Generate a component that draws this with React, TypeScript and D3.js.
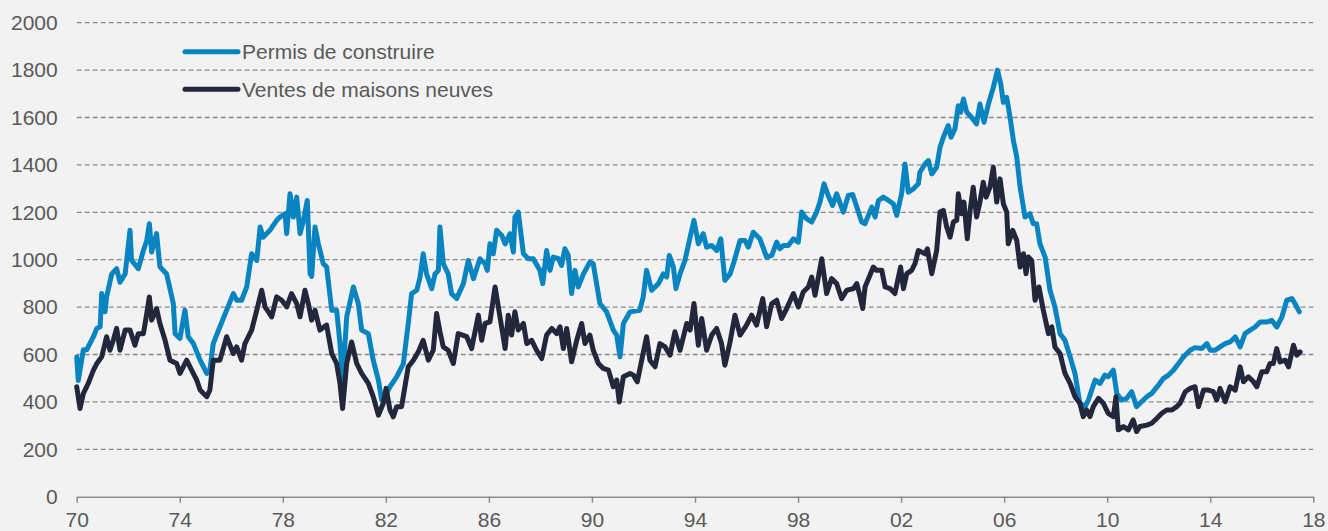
import * as d3 from "d3";
import { useEffect, useRef } from "react";

// Permis de construire (milliers, annualisé) : [année, valeur]
const permis: [number, number][] = [
  [1970.0, 590], [1970.06, 490], [1970.26, 620], [1970.39, 620], [1970.65, 675], [1970.78, 710],
  [1970.91, 717], [1970.97, 857], [1971.1, 780], [1971.16, 843], [1971.36, 940], [1971.55, 962],
  [1971.68, 905], [1971.88, 940], [1972.07, 1124], [1972.13, 998], [1972.39, 962], [1972.59, 1039],
  [1972.72, 1081], [1972.82, 1152], [1972.91, 1032], [1973.1, 1110], [1973.23, 970], [1973.49, 940],
  [1973.75, 815], [1973.82, 688], [1974.01, 668], [1974.2, 787], [1974.33, 675], [1974.53, 646],
  [1974.79, 576], [1975.05, 520], [1975.17, 534], [1975.3, 646], [1975.56, 717], [1975.82, 787],
  [1976.08, 857], [1976.21, 829], [1976.4, 829], [1976.6, 885], [1976.79, 1025], [1976.99, 997],
  [1977.12, 1138], [1977.24, 1095], [1977.5, 1124], [1977.76, 1166], [1977.89, 1180], [1978.09, 1194],
  [1978.15, 1110], [1978.28, 1278], [1978.41, 1180], [1978.54, 1264], [1978.67, 1110], [1978.8, 1166],
  [1978.95, 1250], [1979.06, 940], [1979.12, 930], [1979.25, 1138], [1979.38, 1067], [1979.57, 983],
  [1979.7, 970], [1979.9, 787], [1980.09, 787], [1980.22, 646], [1980.32, 478], [1980.48, 759],
  [1980.74, 885], [1980.93, 815], [1981.06, 703], [1981.32, 688], [1981.51, 576], [1981.71, 492],
  [1981.84, 408], [1982.03, 436], [1982.16, 464], [1982.42, 506], [1982.68, 562], [1982.87, 731],
  [1983.0, 857], [1983.2, 871], [1983.33, 927], [1983.45, 1025], [1983.58, 940], [1983.78, 878],
  [1983.91, 940], [1984.04, 955], [1984.1, 1138], [1984.23, 983], [1984.42, 940], [1984.55, 857],
  [1984.75, 836], [1985.01, 899], [1985.2, 997], [1985.4, 920], [1985.65, 1004], [1985.85, 983],
  [1985.94, 955], [1986.04, 1067], [1986.17, 1025], [1986.3, 1124], [1986.5, 1102], [1986.63, 1067],
  [1986.82, 1110], [1986.95, 1032], [1987.01, 1180], [1987.14, 1201], [1987.34, 1025], [1987.53, 1004],
  [1987.72, 1004], [1987.98, 955], [1988.09, 899], [1988.24, 1039], [1988.37, 955], [1988.5, 1011],
  [1988.7, 1004], [1988.82, 976], [1988.95, 1046], [1989.08, 1018], [1989.21, 857], [1989.34, 955],
  [1989.47, 885], [1989.67, 940], [1989.92, 990], [1990.05, 983], [1990.31, 815], [1990.57, 780],
  [1990.83, 703], [1990.96, 682], [1991.09, 590], [1991.22, 731], [1991.48, 780], [1991.86, 787],
  [1991.99, 843], [1992.12, 955], [1992.32, 871], [1992.58, 899], [1992.77, 940], [1992.9, 927],
  [1993.0, 1018], [1993.16, 970], [1993.26, 878], [1993.42, 940], [1993.61, 997], [1993.81, 1095],
  [1993.96, 1166], [1994.13, 1067], [1994.32, 1110], [1994.45, 1053], [1994.65, 1060], [1994.84, 1039],
  [1995.0, 1088], [1995.16, 913], [1995.36, 940], [1995.49, 983], [1995.75, 1081], [1995.94, 1081],
  [1996.07, 1053], [1996.26, 1116], [1996.52, 1088], [1996.78, 1011], [1996.98, 1018], [1997.17, 1074],
  [1997.3, 1046], [1997.43, 1060], [1997.62, 1060], [1997.82, 1088], [1998.01, 1074], [1998.14, 1201],
  [1998.33, 1173], [1998.53, 1159], [1998.72, 1201], [1998.85, 1243], [1999.01, 1320], [1999.17, 1271],
  [1999.34, 1229], [1999.5, 1278], [1999.76, 1201], [1999.95, 1271], [2000.12, 1275], [2000.28, 1222],
  [2000.47, 1159], [2000.6, 1152], [2000.86, 1222], [2000.99, 1180], [2001.12, 1250], [2001.31, 1264],
  [2001.51, 1250], [2001.7, 1236], [2001.83, 1187], [2002.02, 1278], [2002.15, 1404], [2002.28, 1285],
  [2002.48, 1299], [2002.67, 1320], [2002.73, 1369], [2002.93, 1404], [2003.06, 1418], [2003.19, 1362],
  [2003.38, 1390], [2003.51, 1474], [2003.64, 1517], [2003.83, 1566], [2003.94, 1517], [2004.09, 1552],
  [2004.22, 1650], [2004.31, 1622], [2004.42, 1678], [2004.55, 1622], [2004.74, 1600], [2004.93, 1573],
  [2005.06, 1657], [2005.22, 1580], [2005.39, 1657], [2005.58, 1727], [2005.74, 1800], [2005.87, 1741],
  [2005.97, 1664], [2006.1, 1685], [2006.23, 1600], [2006.36, 1502], [2006.49, 1432], [2006.62, 1306],
  [2006.81, 1180], [2007.0, 1194], [2007.13, 1152], [2007.26, 1152], [2007.39, 1067], [2007.59, 1011],
  [2007.78, 871], [2007.97, 801], [2008.17, 688], [2008.36, 660], [2008.56, 590], [2008.75, 520],
  [2008.94, 394], [2009.14, 380], [2009.27, 408], [2009.53, 492], [2009.72, 478], [2009.91, 513],
  [2010.04, 506], [2010.24, 534], [2010.37, 436], [2010.56, 408], [2010.76, 415], [2010.95, 443],
  [2011.14, 380], [2011.27, 394], [2011.54, 422], [2011.73, 436], [2011.99, 471], [2012.18, 499],
  [2012.38, 513], [2012.57, 534], [2012.77, 562], [2012.96, 590], [2013.22, 618], [2013.41, 629],
  [2013.67, 625], [2013.87, 646], [2014.0, 618], [2014.19, 618], [2014.38, 632], [2014.58, 646],
  [2014.77, 653], [2014.97, 674], [2015.16, 632], [2015.35, 688], [2015.55, 703], [2015.74, 716],
  [2015.94, 737], [2016.19, 737], [2016.39, 744], [2016.58, 716], [2016.78, 758], [2016.97, 829],
  [2017.17, 836], [2017.29, 815], [2017.46, 780],
];

// Ventes de maisons neuves (milliers, annualisé) : [année, valeur]
const ventes: [number, number][] = [
  [1970.0, 464], [1970.13, 372], [1970.26, 436], [1970.45, 478], [1970.65, 534], [1970.78, 562],
  [1970.97, 590], [1971.16, 675], [1971.29, 618], [1971.42, 660], [1971.55, 710], [1971.68, 618],
  [1971.88, 703], [1972.07, 703], [1972.26, 639], [1972.39, 688], [1972.59, 688], [1972.72, 773],
  [1972.82, 843], [1972.91, 745], [1973.1, 794], [1973.23, 731], [1973.43, 660], [1973.62, 576],
  [1973.88, 562], [1974.01, 520], [1974.27, 576], [1974.46, 534], [1974.66, 492], [1974.79, 450],
  [1975.05, 422], [1975.17, 450], [1975.3, 576], [1975.56, 576], [1975.82, 675], [1976.08, 604],
  [1976.21, 632], [1976.4, 576], [1976.53, 646], [1976.79, 703], [1976.99, 787], [1977.18, 871],
  [1977.31, 801], [1977.57, 759], [1977.76, 843], [1977.96, 829], [1978.15, 801], [1978.34, 857],
  [1978.54, 815], [1978.67, 759], [1978.86, 871], [1978.99, 815], [1979.12, 745], [1979.25, 787],
  [1979.44, 703], [1979.7, 724], [1979.9, 604], [1980.09, 562], [1980.22, 478], [1980.32, 372],
  [1980.48, 562], [1980.67, 653], [1980.87, 562], [1981.06, 520], [1981.32, 478], [1981.51, 422],
  [1981.71, 344], [1981.9, 394], [1982.01, 457], [1982.16, 366], [1982.29, 337], [1982.42, 380],
  [1982.61, 380], [1982.74, 464], [1982.87, 548], [1983.07, 576], [1983.26, 611], [1983.45, 660],
  [1983.65, 576], [1983.84, 618], [1983.97, 773], [1984.1, 696], [1984.23, 632], [1984.42, 618],
  [1984.62, 562], [1984.81, 688], [1985.14, 675], [1985.33, 625], [1985.59, 766], [1985.72, 660],
  [1985.85, 731], [1986.04, 738], [1986.24, 885], [1986.43, 759], [1986.63, 625], [1986.75, 766],
  [1986.88, 682], [1987.01, 780], [1987.14, 703], [1987.34, 731], [1987.47, 646], [1987.66, 660],
  [1987.85, 618], [1988.05, 583], [1988.24, 682], [1988.44, 710], [1988.63, 688], [1988.76, 717],
  [1988.89, 625], [1989.02, 710], [1989.21, 569], [1989.41, 660], [1989.6, 731], [1989.73, 646],
  [1989.92, 682], [1990.05, 618], [1990.25, 562], [1990.44, 541], [1990.64, 534], [1990.83, 464],
  [1990.96, 492], [1991.06, 400], [1991.22, 506], [1991.48, 520], [1991.61, 513], [1991.76, 485],
  [1991.93, 576], [1992.12, 675], [1992.25, 576], [1992.45, 548], [1992.64, 646], [1992.84, 632],
  [1993.03, 597], [1993.22, 696], [1993.42, 618], [1993.68, 731], [1993.81, 703], [1993.96, 815],
  [1994.13, 639], [1994.26, 752], [1994.45, 618], [1994.65, 682], [1994.84, 710], [1995.03, 646],
  [1995.16, 555], [1995.36, 653], [1995.55, 766], [1995.75, 682], [1996.0, 724], [1996.2, 766],
  [1996.39, 724], [1996.63, 836], [1996.78, 717], [1996.98, 815], [1997.17, 829], [1997.36, 752],
  [1997.56, 794], [1997.82, 857], [1998.01, 801], [1998.2, 864], [1998.4, 885], [1998.53, 927],
  [1998.66, 850], [1998.92, 1004], [1999.11, 857], [1999.3, 920], [1999.5, 899], [1999.69, 836],
  [1999.89, 871], [2000.15, 878], [2000.28, 899], [2000.41, 843], [2000.51, 794], [2000.6, 885],
  [2000.79, 934], [2000.92, 969], [2001.05, 955], [2001.25, 955], [2001.38, 885], [2001.57, 878],
  [2001.76, 857], [2001.98, 969], [2002.09, 878], [2002.22, 941], [2002.41, 955], [2002.54, 983],
  [2002.67, 1039], [2002.8, 1032], [2002.93, 1025], [2003.02, 1046], [2003.19, 941], [2003.38, 1039],
  [2003.51, 1201], [2003.64, 1208], [2003.77, 1138], [2003.9, 1095], [2004.03, 1159], [2004.16, 1166],
  [2004.22, 1278], [2004.35, 1194], [2004.44, 1243], [2004.57, 1088], [2004.68, 1208], [2004.8, 1306],
  [2004.93, 1180], [2005.06, 1243], [2005.19, 1327], [2005.3, 1264], [2005.45, 1306], [2005.58, 1390],
  [2005.71, 1243], [2005.84, 1341], [2005.97, 1236], [2006.1, 1201], [2006.16, 1067], [2006.33, 1124],
  [2006.49, 1081], [2006.62, 969], [2006.75, 1025], [2006.85, 941], [2006.94, 1011], [2007.07, 997],
  [2007.2, 829], [2007.35, 885], [2007.52, 787], [2007.72, 688], [2007.85, 717], [2007.97, 632],
  [2008.17, 604], [2008.36, 520], [2008.56, 478], [2008.75, 422], [2008.94, 394], [2009.07, 338],
  [2009.2, 366], [2009.33, 338], [2009.46, 380], [2009.66, 415], [2009.85, 394], [2010.04, 352],
  [2010.24, 338], [2010.34, 422], [2010.43, 282], [2010.63, 296], [2010.82, 282], [2011.01, 324],
  [2011.14, 275], [2011.27, 296], [2011.54, 302], [2011.73, 310], [2011.93, 331], [2012.12, 352],
  [2012.31, 366], [2012.51, 366], [2012.7, 380], [2012.83, 394], [2013.03, 443], [2013.22, 457],
  [2013.41, 464], [2013.54, 380], [2013.74, 450], [2013.93, 450], [2014.12, 443], [2014.25, 408],
  [2014.38, 457], [2014.58, 401], [2014.77, 464], [2014.97, 450], [2015.16, 548], [2015.29, 485],
  [2015.48, 506], [2015.68, 485], [2015.81, 464], [2016.0, 527], [2016.19, 527], [2016.32, 562],
  [2016.45, 562], [2016.58, 625], [2016.71, 569], [2016.91, 576], [2017.04, 548], [2017.23, 639],
  [2017.36, 597], [2017.49, 611],
];

const yTicks = [0, 200, 400, 600, 800, 1000, 1200, 1400, 1600, 1800, 2000];
const xTicks = [1970, 1974, 1978, 1982, 1986, 1990, 1994, 1998, 2002, 2006, 2010, 2014, 2018];

const series = [
  { name: "Permis de construire", data: permis, color: "#0884c1" },
  { name: "Ventes de maisons neuves", data: ventes, color: "#22273c" },
];

const W = 1328;
const H = 531;
const FONT = "'Liberation Sans', Arial, sans-serif";

export default function App() {
  const ref = useRef<SVGSVGElement>(null);

  useEffect(() => {
    const svg = d3.select(ref.current);
    svg.selectAll("*").remove();

    const x = d3.scaleLinear().domain([1970, 2018]).range([76.7, 1313.3]);
    const y = d3.scaleLinear().domain([0, 2000]).range([496.7, 22.7]);

    svg.append("rect").attr("width", W).attr("height", H).attr("fill", "#f2f2f2");

    // grille
    svg.append("g")
      .selectAll("line")
      .data(yTicks.filter((d) => d > 0))
      .join("line")
      .attr("x1", x(1970))
      .attr("x2", x(2018))
      .attr("y1", (d) => y(d))
      .attr("y2", (d) => y(d))
      .attr("stroke", "#8c8c8c")
      .attr("stroke-width", 1.3)
      .attr("stroke-dasharray", "5,3");

    // axe Y (libellés seulement)
    const yAxis = svg.append("g")
      .attr("transform", `translate(${x(1970)},0)`)
      .call(d3.axisLeft(y).tickValues(yTicks).tickSize(0).tickPadding(19).tickFormat((d) => String(d)));
    yAxis.select(".domain").remove();
    yAxis.selectAll("text")
      .attr("fill", "#595959")
      .style("font-family", FONT)
      .style("font-size", "21px");

    // axe X
    const xAxis = svg.append("g")
      .attr("transform", `translate(0,${y(0)})`)
      .call(
        d3.axisBottom(x)
          .tickValues(xTicks)
          .tickSize(6)
          .tickSizeOuter(0)
          .tickPadding(9)
          .tickFormat((d) => String(d).slice(2))
      );
    xAxis.select(".domain").attr("stroke", "#8c8c8c").attr("stroke-width", 1.5);
    xAxis.selectAll("line").attr("stroke", "#8c8c8c").attr("stroke-width", 1.5);
    xAxis.selectAll("text")
      .attr("fill", "#595959")
      .style("font-family", FONT)
      .style("font-size", "21px");

    // courbes
    const line = d3.line<[number, number]>()
      .x((d) => x(d[0]))
      .y((d) => y(d[1]));

    svg.append("g")
      .selectAll("path")
      .data(series)
      .join("path")
      .attr("d", (s) => line(s.data))
      .attr("fill", "none")
      .attr("stroke", (s) => s.color)
      .attr("stroke-width", 5)
      .attr("stroke-linejoin", "round")
      .attr("stroke-linecap", "round");

    // légende
    const leg = svg.append("g")
      .selectAll("g")
      .data(series)
      .join("g")
      .attr("transform", (_, i) => `translate(185,${51.7 + i * 37.6})`);
    leg.append("line")
      .attr("x1", 0)
      .attr("x2", 53)
      .attr("stroke", (s) => s.color)
      .attr("stroke-width", 5)
      .attr("stroke-linecap", "round");
    leg.append("text")
      .attr("x", 57)
      .attr("y", 7.5)
      .attr("fill", "#595959")
      .style("font-family", FONT)
      .style("font-size", "21px")
      .text((s) => s.name);
  }, []);

  return (
    <svg
      ref={ref}
      width={W}
      height={H}
      style={{ position: "absolute", left: 0, top: 0, display: "block" }}
    />
  );
}
